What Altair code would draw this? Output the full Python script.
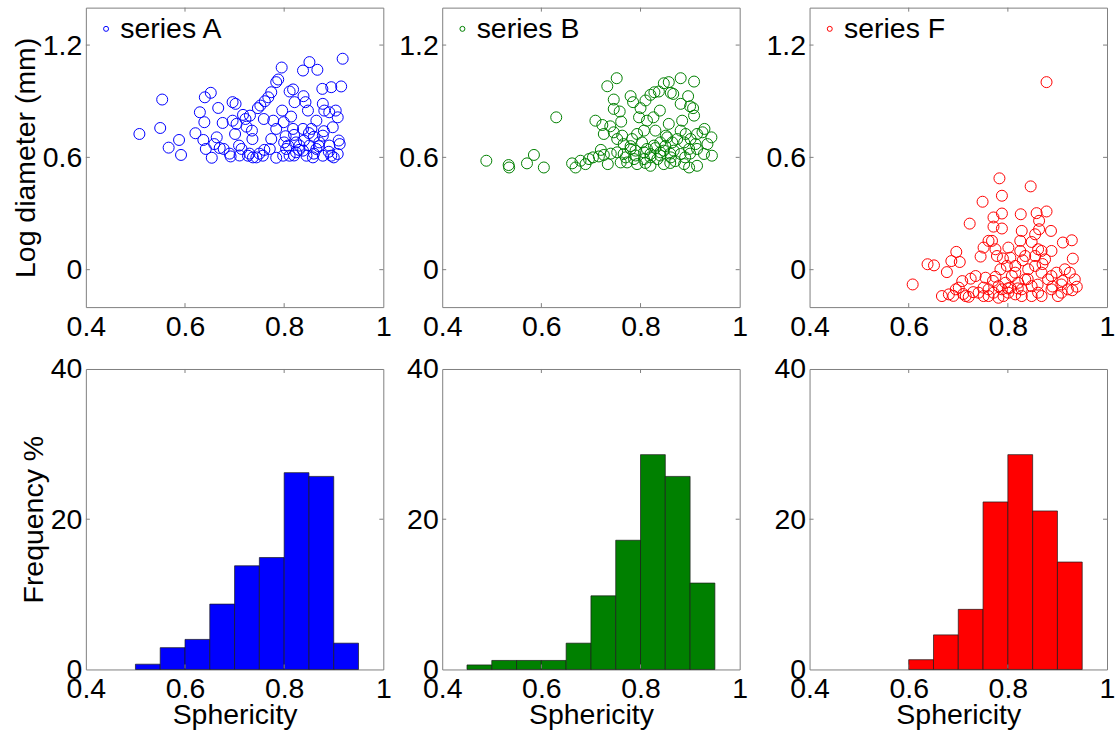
import altair as alt
import pandas as pd

FONT = "Liberation Sans"
FRAME = "#808080"
FS = 28.5

# ---------------- scatter data (sphericity, log diameter in mm) ----------------
a_sph = [0.508,0.554,0.550,0.567,0.588,0.592,0.640,0.652,0.630,0.639,
         0.621,0.637,0.642,0.654,0.667,0.676,0.664,0.659,0.670,0.678,
         0.692,0.696,0.702,0.696,0.704,0.701,0.709,0.714,0.717,0.722,
         0.724,0.731,0.735,0.736,0.727,0.737,0.747,0.752,0.759,0.761,
         0.768,0.774,0.784,0.788,0.795,0.774,0.771,0.778,0.784,0.796,
         0.799,0.803,0.808,0.811,0.818,0.821,0.814,0.818,0.824,0.798,
         0.784,0.757,0.744,0.838,0.851,0.867,0.839,0.843,0.848,0.838,
         0.855,0.865,0.877,0.878,0.881,0.891,0.904,0.908,0.898,0.895,
         0.915,0.918,0.878,0.871,0.865,0.851,0.838,0.891,0.912,0.908,
         0.878,0.895,0.824,0.845,0.858,0.811,0.804,0.831,
         0.82,0.83,0.86,0.87,0.84,0.89,0.80,0.76,0.75,0.73,
         0.71,0.69,0.86,0.88,0.85,0.82,0.90,0.91]
a_logd = [0.725,0.909,0.757,0.652,0.693,0.613,0.921,0.945,0.841,0.788,
          0.729,0.693,0.645,0.598,0.864,0.784,0.707,0.671,0.650,0.645,
          0.605,0.895,0.886,0.796,0.779,0.725,0.663,0.645,0.827,0.805,
          0.764,0.823,0.743,0.698,0.609,0.600,0.863,0.877,0.805,0.900,
          0.921,0.948,1.002,1.016,1.080,0.698,0.645,0.796,0.752,0.850,
          0.788,0.713,0.663,0.952,0.963,0.895,0.818,0.752,0.680,0.609,
          0.598,0.609,0.600,1.064,1.109,1.068,0.927,0.895,0.850,0.752,
          0.752,0.796,0.966,0.886,0.850,0.841,0.850,0.814,0.761,0.975,
          0.979,1.127,0.716,0.680,0.645,0.663,0.636,0.663,0.671,0.618,
          0.609,0.609,0.627,0.609,0.600,0.609,0.645,0.663,
          0.61,0.64,0.62,0.66,0.69,0.63,0.68,0.64,0.62,0.62,
          0.61,0.62,0.71,0.74,0.73,0.72,0.60,0.69]

b_sph = [0.489,0.534,0.535,0.571,0.585,0.605,0.630,0.662,0.669,0.679,
         0.689,0.696,0.704,0.716,0.726,0.734,0.733,0.752,0.746,0.746,
         0.758,0.761,0.709,0.723,0.726,0.739,0.746,0.753,0.763,0.766,
         0.780,0.785,0.797,0.800,0.810,0.813,0.820,0.826,0.828,0.837,
         0.839,0.847,0.857,0.861,0.866,0.881,0.908,0.896,0.881,0.900,
         0.906,0.884,0.857,0.830,0.807,0.793,0.783,0.780,0.790,0.803,
         0.813,0.827,0.840,0.851,0.864,0.874,0.888,0.901,0.914,0.925,
         0.929,0.943,0.935,0.928,0.944,0.914,0.898,0.888,0.881,0.861,
         0.847,0.834,0.820,0.807,0.793,0.773,0.760,0.766,0.753,0.820,
         0.847,0.867,0.898,0.914,0.854,0.840,0.787,0.807,0.881,0.891,
         0.908,0.911,
         0.82,0.84,0.86,0.87,0.89,0.90,0.83,0.85,0.79,0.77,
         0.81,0.86,0.78,0.74,0.72]
b_logd = [0.582,0.559,0.546,0.568,0.613,0.546,0.814,0.568,0.546,0.582,
          0.564,0.591,0.600,0.605,0.613,0.564,0.980,1.023,0.909,0.859,
          0.845,0.791,0.796,0.773,0.725,0.766,0.734,0.698,0.716,0.671,
          0.927,0.895,0.814,0.863,0.904,0.796,0.934,0.814,0.948,0.952,
          0.850,0.996,1.002,0.945,0.939,1.023,1.005,0.927,0.886,0.873,
          0.863,0.796,0.779,0.743,0.743,0.725,0.698,0.645,0.636,0.680,
          0.645,0.663,0.680,0.716,0.680,0.698,0.680,0.698,0.725,0.734,
          0.752,0.707,0.671,0.618,0.609,0.555,0.546,0.564,0.618,0.600,
          0.564,0.591,0.555,0.591,0.564,0.573,0.573,0.618,0.627,0.618,
          0.636,0.636,0.645,0.645,0.707,0.627,0.591,0.627,0.743,0.725,
          0.823,0.671,
          0.60,0.61,0.62,0.58,0.60,0.62,0.65,0.66,0.61,0.60,
          0.57,0.57,0.66,0.62,0.64]

f_sph = [0.608,0.638,0.651,0.677,0.686,0.696,0.703,0.723,0.667,0.681,
         0.695,0.701,0.708,0.715,0.721,0.725,0.735,0.745,0.749,0.751,
         0.761,0.768,0.771,0.771,0.775,0.778,0.783,0.788,0.788,0.788,
         0.785,0.775,0.755,0.751,0.761,0.771,0.781,0.795,0.801,0.805,
         0.815,0.825,0.825,0.828,0.826,0.835,0.848,0.855,0.858,0.863,
         0.863,0.868,0.875,0.878,0.887,0.888,0.878,0.846,0.911,0.929,
         0.931,0.915,0.925,0.935,0.939,0.921,0.908,0.901,0.888,0.881,
         0.868,0.855,0.841,0.835,0.828,0.815,0.801,0.791,0.781,0.808,
         0.821,0.848,0.861,0.888,0.898,0.908,0.868,0.848,0.828,0.815,
         0.798,0.855,0.861,0.761,0.741,0.751,0.788,0.805,
         0.82,0.84,0.86,0.89,0.91,0.93,0.80,0.77,0.73,0.71,
         0.69,0.83,0.87,0.79]
f_logd = [-0.079,0.029,0.023,-0.013,0.046,0.095,0.041,0.246,-0.141,-0.132,
          -0.105,-0.096,-0.061,-0.141,-0.145,-0.048,-0.034,0.070,0.363,0.118,
          0.154,0.154,0.279,0.230,0.109,0.073,0.488,0.395,0.300,0.220,
          0.002,-0.038,-0.043,-0.096,-0.141,-0.123,-0.088,-0.070,0.118,0.064,
          0.020,0.100,0.154,0.207,0.296,0.073,0.148,0.189,0.302,0.261,
          0.216,0.100,0.055,0.311,0.207,0.100,1.002,0.445,0.145,0.157,
          0.059,0.002,-0.016,-0.052,-0.091,-0.105,-0.079,-0.141,-0.105,-0.052,
          -0.016,0.020,0.002,-0.052,-0.105,-0.132,-0.123,-0.141,-0.150,-0.034,
          -0.070,-0.088,-0.123,-0.034,-0.016,-0.123,-0.141,-0.141,-0.141,-0.016,
          0.020,0.073,0.109,-0.105,-0.123,-0.141,-0.105,-0.096,
          -0.10,-0.05,-0.08,-0.09,-0.06,-0.11,-0.10,-0.06,-0.12,-0.13,
          -0.14,0.05,0.03,0.06]

# ---------------- histogram data (frequency % per sphericity bin) ----------------
bin_lo = [0.45,0.50,0.55,0.60,0.65,0.70,0.75,0.80,0.85,0.90]
bin_hi = [0.50,0.55,0.60,0.65,0.70,0.75,0.80,0.85,0.90,0.95]
a_freq = [0.0,0.7,2.9,4.0,8.7,13.8,14.9,26.2,25.7,3.5]
b_freq = [0.6,1.2,1.2,1.2,3.5,9.8,17.2,28.6,25.7,11.5]
f_freq = [0.0,0.0,0.0,1.3,4.6,8.0,22.3,28.6,21.1,14.3]

# ---------------- axes ----------------
x_ticks = [0.4,0.6,0.8,1.0]
scatter_y_ticks = [0.0,0.6,1.2]
hist_y_ticks = [0,20,40]
x_inner_ticks = [0.6,0.8]
hist_inner_y = [20]

X_DOM = [0.4,1.0]
SY_DOM = [-0.2,1.4]
HY_DOM = [0,40]

W = 298
H = 300
TK = 4
FMT = ".1~f"


def x_axis(title):
    kw = dict(values=x_ticks, format=FMT)
    kw["title"] = title if title else None
    return alt.Axis(**kw)


def y_axis(values, title, min_extent):
    kw = dict(values=values, format=FMT)
    kw["title"] = title if title else None
    if min_extent:
        kw["minExtent"] = min_extent
    return alt.Axis(**kw)


def tick_layers(xscale, yscale, xaxis, yaxis, xvals, yvals):
    xt = alt.Chart(pd.DataFrame({"tv": xvals}))
    yt = alt.Chart(pd.DataFrame({"tv": yvals}))
    return [
        xt.mark_rule(color=FRAME, strokeWidth=1).encode(
            x=alt.X("tv:Q", scale=xscale, axis=xaxis), y=alt.value(H), y2=alt.value(H - TK)),
        xt.mark_rule(color=FRAME, strokeWidth=1).encode(
            x=alt.X("tv:Q", scale=xscale, axis=xaxis), y=alt.value(0), y2=alt.value(TK)),
        yt.mark_rule(color=FRAME, strokeWidth=1).encode(
            y=alt.Y("tv:Q", scale=yscale, axis=yaxis), x=alt.value(0), x2=alt.value(TK)),
        yt.mark_rule(color=FRAME, strokeWidth=1).encode(
            y=alt.Y("tv:Q", scale=yscale, axis=yaxis), x=alt.value(W), x2=alt.value(W - TK)),
    ]


def scatter(xs, ys, label, color, ytitle, min_extent):
    df = pd.DataFrame({"Sphericity": xs, "LogD": ys, "series": [label] * len(xs)})
    xscale = alt.Scale(domain=X_DOM, nice=False, zero=False)
    yscale = alt.Scale(domain=SY_DOM, nice=False, zero=False)
    xaxis = x_axis(None)
    yaxis = y_axis(scatter_y_ticks, ytitle, min_extent)
    pts = alt.Chart(df).mark_point(shape="circle", filled=False, size=121,
                                   strokeWidth=1, opacity=1).encode(
        x=alt.X("Sphericity:Q", scale=xscale, axis=xaxis),
        y=alt.Y("LogD:Q", scale=yscale, axis=yaxis),
        color=alt.Color("series:N", scale=alt.Scale(domain=[label], range=[color]),
                        legend=alt.Legend(orient="none", legendX=6, legendY=7, title=None,
                                          symbolType="circle", symbolSize=25,
                                          symbolStrokeWidth=1, labelOffset=0,
                                          padding=0, labelFont=FONT, labelFontSize=FS,
                                          labelColor="black")),
    )
    return alt.layer(pts, *tick_layers(xscale, yscale, xaxis, yaxis,
                                       x_inner_ticks, scatter_y_ticks)).properties(
        width=W, height=H)


def hist(freq, color, ytitle, min_extent):
    df = pd.DataFrame({"lo": bin_lo, "hi": bin_hi, "freq": freq})
    df = df[df["freq"] > 0]
    xscale = alt.Scale(domain=X_DOM, nice=False, zero=False)
    yscale = alt.Scale(domain=HY_DOM, nice=False)
    xaxis = x_axis("Sphericity")
    yaxis = y_axis(hist_y_ticks, ytitle, min_extent)
    bars = alt.Chart(df).mark_bar(color=color, stroke="#1a1a1a", strokeWidth=0.7).encode(
        x=alt.X("lo:Q", scale=xscale, axis=xaxis),
        x2="hi:Q",
        y=alt.Y("freq:Q", scale=yscale, axis=yaxis),
        y2=alt.datum(0),
    )
    return alt.layer(bars, *tick_layers(xscale, yscale, xaxis, yaxis,
                                        x_inner_ticks, hist_inner_y)).properties(
        width=W, height=H + 1)


col_a = alt.vconcat(scatter(a_sph, a_logd, "series A", "#0000ff", "Log diameter (mm)", None),
                    hist(a_freq, "#0000ff", "Frequency %", None), spacing=62, bounds="flush")
col_b = alt.vconcat(scatter(b_sph, b_logd, "series B", "#008000", None, None),
                    hist(b_freq, "#008000", None, 44), spacing=62, bounds="flush")
col_f = alt.vconcat(scatter(f_sph, f_logd, "series F", "#ff0000", None, 55),
                    hist(f_freq, "#ff0000", None, 55), spacing=62, bounds="flush")

chart = alt.hconcat(col_a, col_b, col_f, spacing=5).resolve_scale(
    color="independent").resolve_legend(color="independent")

chart = chart.properties(
    padding={"left": 11, "top": 6, "right": 0, "bottom": 0},
    background="white",
).configure_view(
    stroke=FRAME, strokeWidth=1
).configure_axis(
    labelFont=FONT, labelFontSize=FS, labelColor="black",
    titleFont=FONT, titleFontSize=FS, titleFontWeight="normal", titleColor="black",
    domain=False, ticks=False, tickSize=0, grid=False,
    labelFlush=False, labelOverlap=False, labelPadding=5,
).configure_axisY(
    titlePadding=1.5, labelPadding=4
).configure_axisX(
    titlePadding=-2
).configure_legend(
    labelFont=FONT, labelFontSize=FS
)

chart.save("out.html", embed_options={"renderer": "svg", "actions": False})
